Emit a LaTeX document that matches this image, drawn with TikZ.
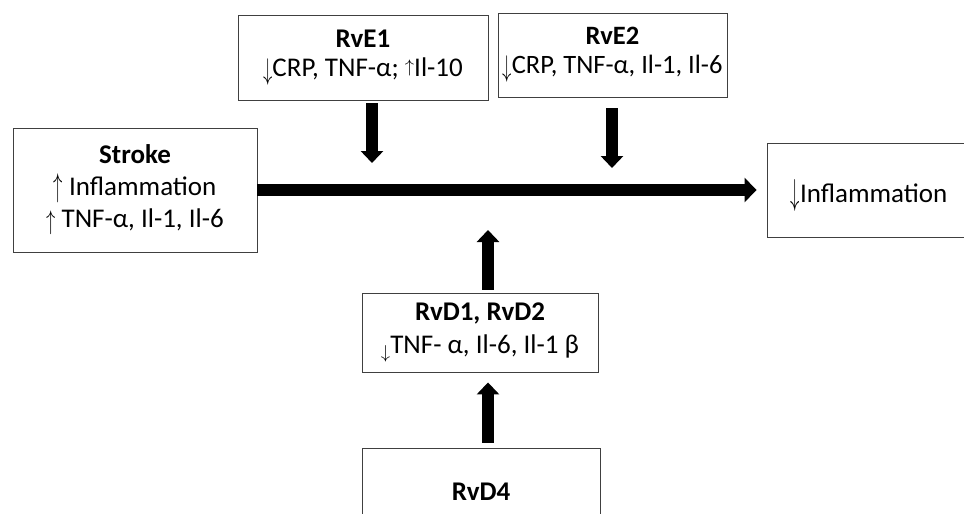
\documentclass[tikz,border=0pt]{standalone}
\usepackage{fontspec}
\setmainfont{Carlito}
\usepackage{graphicx}
\usepackage{tikz}
\usetikzlibrary{arrows.meta, positioning}
\tikzstyle{box} = [rectangle, draw=black!75, line width=0.9pt, text centered, align=center, inner sep=0pt, font=\fontsize{27}{32}\selectfont]
\tikzstyle{arrow} = [line width=11.5pt, -{Triangle[width=22pt,length=12pt]}]
\tikzstyle{mainarrow} = [line width=12.5pt, -{Triangle[width=24pt,length=12pt]}]
% small up/down sign: symbol, vertical scale, raise
\newcommand{\updown}[3]{\raisebox{#3}{\scalebox{0.75}[#2]{$#1$}}}

\begin{document}
\begin{tikzpicture}[x=1pt, y=-1pt]
    \useasboundingbox (0,0) rectangle (964,514);
    \clip (0,0) rectangle (964,514);

    \node (stroke) [box, minimum width=244pt, minimum height=124pt] at (135,190) {\textbf{Stroke}\\ \updown{\uparrow}{1.32}{-1pt}\ Inflammation\\ \updown{\uparrow}{1.08}{-2.2pt}\ TNF-α, Il-1, Il-6};
    \node (rve1) [box, minimum width=250pt, minimum height=85pt] at (363,57.5) {\textbf{RvE1}\\[-3pt] \updown{\downarrow}{1.2}{-3pt}CRP, TNF-α; \updown{\uparrow}{0.73}{3.5pt}Il-10};
    \node (rve2) [box, minimum width=229pt, minimum height=84pt, font=\fontsize{26.5}{32}\selectfont] at (612.5,55) {\textbf{RvE2}\\[-3pt] \updown{\downarrow}{1.2}{-3pt}CRP, TNF-α, Il-1, Il-6};
    \node (infl) [box, minimum width=204pt, minimum height=94pt, text height=24pt, text depth=0pt] at (869,190) {\updown{\downarrow}{1.45}{-2.5pt}Inflammation};
    \node (rvd12) [box, minimum width=236pt, minimum height=79pt] at (480,332.5) {\textbf{RvD1, RvD2}\\[1pt] \updown{\downarrow}{0.75}{-4.7pt}TNF- α, Il-6, Il-1 β};
    \node (rvd4) [box, minimum width=238pt, minimum height=88pt] at (481,492) {\textbf{RvD4}};

    % points where the side arrows meet the main one
    \coordinate (hit1) at (372,190);
    \coordinate (hit2) at (612,190);
    \coordinate (hit3) at (488,190);

    \draw [mainarrow, shorten >=10pt] (stroke) -- (infl);
    \draw [arrow, shorten <=3pt, shorten >=27pt] (rve1.south -| hit1) -- (hit1);
    \draw [arrow, shorten <=11pt, shorten >=22pt] (rve2.south -| hit2) -- (hit2);
    \draw [arrow, shorten <=3pt, shorten >=40pt] (rvd12.north -| hit3) -- (hit3);
    \draw [arrow, shorten <=5pt, shorten >=10pt] (rvd4.north -| hit3) -- (rvd12.south -| hit3);
\end{tikzpicture}
\end{document}
